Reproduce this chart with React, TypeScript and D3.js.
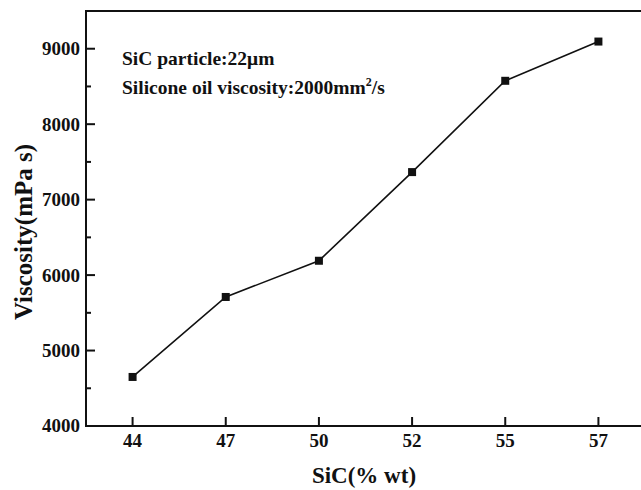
import * as d3 from 'd3';
import React, { useEffect, useRef } from 'react';

// SiC content (% wt) and the measured viscosity (mPa s)
const sicContent = ['44', '47', '50', '52', '55', '57'];
const viscosity = [4650, 5710, 6190, 7365, 8575, 9095];
const yMajorTicks = [4000, 5000, 6000, 7000, 8000, 9000];
const yMinorTicks = [4500, 5500, 6500, 7500, 8500];
const noteLines = ['SiC particle:22\u03bcm', 'Silicone oil viscosity:2000mm'];

const App = () => {
  const ref = useRef<SVGSVGElement | null>(null);

  useEffect(() => {
    const width = 641, height = 490;
    const margin = { top: 11, left: 86, bottom: 426, right: 645 };
    const font = '"Liberation Serif", "Times New Roman", serif';
    const ink = '#111';

    const svg = d3.select(ref.current);
    svg.selectAll('*').remove();
    svg.attr('width', width).attr('height', height);

    const x = d3.scalePoint<string>()
      .domain(sicContent)
      .range([margin.left, margin.right])
      .padding(0.5);

    const y = d3.scaleLinear()
      .domain([4000, 9500])
      .range([margin.bottom, margin.top]);

    // frame
    svg.append('path')
      .attr('d', `M${margin.right},${margin.top}H${margin.left}V${margin.bottom}H${margin.right}`)
      .attr('fill', 'none')
      .attr('stroke', ink)
      .attr('stroke-width', 2);

    // ticks pointing inwards
    svg.append('g')
      .selectAll('line')
      .data(yMajorTicks)
      .join('line')
        .attr('x1', margin.left).attr('x2', margin.left + 9)
        .attr('y1', d => y(d)).attr('y2', d => y(d))
        .attr('stroke', ink).attr('stroke-width', 2);

    svg.append('g')
      .selectAll('line')
      .data(yMinorTicks)
      .join('line')
        .attr('x1', margin.left).attr('x2', margin.left + 5)
        .attr('y1', d => y(d)).attr('y2', d => y(d))
        .attr('stroke', ink).attr('stroke-width', 2);

    svg.append('g')
      .selectAll('line')
      .data(sicContent)
      .join('line')
        .attr('x1', d => x(d)!).attr('x2', d => x(d)!)
        .attr('y1', margin.bottom).attr('y2', margin.bottom - 9)
        .attr('stroke', ink).attr('stroke-width', 2);

    // tick labels
    svg.append('g')
      .selectAll('text')
      .data(yMajorTicks)
      .join('text')
        .attr('x', margin.left - 6)
        .attr('y', d => y(d))
        .attr('dy', '0.34em')
        .attr('text-anchor', 'end')
        .attr('font-family', font)
        .attr('font-weight', 'bold')
        .attr('font-size', 19)
        .attr('fill', ink)
        .text(d => d);

    svg.append('g')
      .selectAll('text')
      .data(sicContent)
      .join('text')
        .attr('x', d => x(d)!)
        .attr('y', margin.bottom + 21)
        .attr('text-anchor', 'middle')
        .attr('font-family', font)
        .attr('font-weight', 'bold')
        .attr('font-size', 19)
        .attr('fill', ink)
        .text(d => d);

    // axis titles
    svg.append('text')
      .attr('x', 364)
      .attr('y', 483)
      .attr('text-anchor', 'middle')
      .attr('font-family', font)
      .attr('font-weight', 'bold')
      .attr('font-size', 23)
      .attr('fill', ink)
      .text('SiC(% wt)');

    svg.append('text')
      .attr('transform', `translate(32,232) rotate(-90)`)
      .attr('text-anchor', 'middle')
      .attr('font-family', font)
      .attr('font-weight', 'bold')
      .attr('font-size', 25)
      .attr('fill', ink)
      .text('Viscosity(mPa s)');

    // line and markers
    const points = sicContent.map((c, i) => ({ c, v: viscosity[i] }));

    svg.append('path')
      .datum(points)
      .attr('fill', 'none')
      .attr('stroke', ink)
      .attr('stroke-width', 1.6)
      .attr('d', d3.line<{ c: string; v: number }>()
        .x(d => x(d.c)!)
        .y(d => y(d.v)));

    svg.append('g')
      .selectAll('rect')
      .data(points)
      .join('rect')
        .attr('x', d => x(d.c)! - 4)
        .attr('y', d => y(d.v) - 4)
        .attr('width', 8)
        .attr('height', 8)
        .attr('fill', ink);

    // annotation
    const note = svg.append('g')
      .attr('font-family', font)
      .attr('font-weight', 'bold')
      .attr('font-size', 19.5)
      .attr('fill', ink);

    note.append('text').attr('x', 122).attr('y', 65).text(noteLines[0]);
    const second = note.append('text').attr('x', 122).attr('y', 94).text(noteLines[1]);
    second.append('tspan').attr('dy', -8).attr('font-size', 12).text('2');
    second.append('tspan').attr('dy', 8).text('/s');
  }, []);

  return (
    <svg ref={ref} style={{ position: 'absolute', left: 0, top: 0, background: '#fff' }}></svg>
  );
};

export default App;
